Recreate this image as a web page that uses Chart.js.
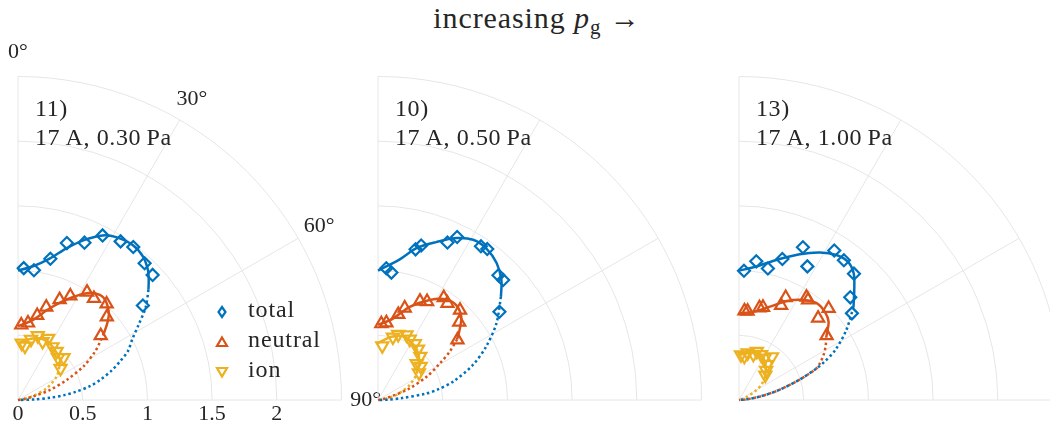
<!DOCTYPE html>
<html lang="en">
  <head>
    <meta charset="UTF-8" />
    <title>Angular distribution - increasing pg</title>
    <script src="https://cdn.jsdelivr.net/npm/chart.js"></script>
    <style>
      body {
        margin: 0;
        width: 1050px;
        height: 429px;
        overflow: hidden;
        position: relative;
        background: #fff;
        font-family: "Liberation Serif", serif;
        color: #262626;
      }
      .title {
        position: absolute;
        top: 0px;
        left: 0;
        width: 1074px;
        text-align: center;
        font-size: 30px;
        line-height: 36px;
        letter-spacing: 0.9px;
      }
      .title sub {
        font-size: 21px;
        line-height: 0;
        vertical-align: -6px;
      }
      .panel {
        position: absolute;
        top: 40px;
        width: 400px;
        height: 389px;
      }
      .label {
        position: absolute;
        top: 94px;
        font-size: 24px;
        line-height: 29px;
        letter-spacing: 0.6px;
        white-space: nowrap;
      }
      .leg-text {
        position: absolute;
        left: 248px;
        font-size: 24px;
        line-height: 30px;
        letter-spacing: 0.9px;
      }
      .leg-mark {
        position: absolute;
        left: 215px;
        width: 14px;
        height: 14px;
      }
    </style>
  </head>
  <body>
    <div class="title">increasing <i>p</i><sub>g</sub> &rarr;</div>
    <div class="panel" style="left: 0px"><canvas id="c1"></canvas></div>
    <div class="panel" style="left: 360px"><canvas id="c2"></canvas></div>
    <div class="panel" style="left: 721px"><canvas id="c3"></canvas></div>

    <script>
      // axes
      const rTicks = [0, 0.5, 1, 1.5, 2];
      const rMax = 2.5;
      const angleTicks = [0, 30, 60, 90];
      const seriesNames = ["total", "neutral", "ion"];
      const panelIds = ["11)", "10)", "13)"];
      const panelConds = ["17\u2009A, 0.30\u2009Pa", "17\u2009A, 0.50\u2009Pa", "17\u2009A, 1.00\u2009Pa"];

      // measured points: [angle (deg), value]
      const p1Total = [[2.5, 1.02], [7.0, 1.01], [12.9, 1.12], [17.3, 1.27], [22.9, 1.32], [27.2, 1.43], [32.9, 1.46], [37.0, 1.48], [42.8, 1.44], [47.1, 1.42], [52.9, 1.21]];
      const p1Neutral = [[2.5, 0.58], [7.4, 0.6], [12.8, 0.67], [16.9, 0.75], [22.5, 0.84], [26.7, 0.9], [32.6, 0.99], [36.8, 0.98], [42.7, 1.01], [46.9, 0.94], [52.1, 0.81]];
      const p1Ion = [[3.7, 0.44], [7.4, 0.42], [12.1, 0.48], [17.1, 0.52], [22.8, 0.49], [26.1, 0.53], [32.9, 0.49], [38.5, 0.48], [43.4, 0.45], [47.1, 0.48], [53.3, 0.41]];

      const p2Total = [[3.6, 1.02], [6.0, 0.99], [14.0, 1.2], [15.6, 1.24], [23.8, 1.33], [25.9, 1.4], [33.8, 1.43], [35.9, 1.44], [44.0, 1.34], [46.2, 1.34], [54.0, 1.16]];
      const p2Neutral = [[2.5, 0.59], [6.2, 0.6], [13.3, 0.68], [16.2, 0.74], [23.0, 0.83], [26.5, 0.85], [32.7, 0.94], [35.7, 0.92], [42.4, 0.94], [46.2, 0.87], [52.9, 0.77]];
      const p2Ion = [[4.5, 0.42], [13.3, 0.5], [17.1, 0.53], [23.6, 0.55], [27.6, 0.53], [33.2, 0.52], [38.2, 0.5], [44.1, 0.47], [46.8, 0.41], [51.7, 0.42], [56.4, 0.38]];

      const p3Total = [[2.2, 1.0], [7.1, 1.08], [12.4, 1.04], [17.1, 1.14], [22.7, 1.28], [27.1, 1.16], [32.5, 1.37], [36.9, 1.35], [42.3, 1.32], [47.3, 1.17], [52.5, 1.1]];
      const p3Neutral = [[3.5, 0.69], [5.5, 0.69], [12.5, 0.73], [14.5, 0.74], [24.0, 0.8], [24.5, 0.87], [33.3, 0.95], [34.6, 0.94], [44.4, 0.99], [44.0, 0.88], [53.7, 0.84]];
      const p3Ion = [[2.5, 0.35], [6.9, 0.34], [10.4, 0.37], [17.4, 0.37], [20.1, 0.4], [26.0, 0.39], [31.3, 0.38], [37.3, 0.42], [38.4, 0.35], [42.6, 0.31], [46.6, 0.28]];

      // fitted curves: solid part, then dotted extrapolation
      const p1TotalFit = [[0, 1.0], [6.4, 1.04], [12.6, 1.12], [17.7, 1.23], [22.6, 1.34], [27.2, 1.43], [31.1, 1.47], [36.6, 1.49], [41.1, 1.47], [45, 1.42], [47.5, 1.37], [49.8, 1.32]];
      const p1TotalTail = [[49.8, 1.32], [54, 1.22], [58, 1.1], [62, 1.0], [66, 0.93], [69, 0.85], [72.5, 0.76], [76, 0.66], [79, 0.57], [82, 0.45], [84, 0.36], [86, 0.25], [88, 0.13], [90, 0]];
      const p1NeutralFit = [[0, 0.57], [10.6, 0.63], [19.1, 0.75], [25.7, 0.86], [32.7, 0.98], [37.9, 1.03], [41.9, 1.02], [46.4, 0.97], [49.3, 0.91], [52.2, 0.84]];
      const p1NeutralTail = [[52.2, 0.84], [55, 0.77], [58, 0.7], [62.8, 0.57], [67.5, 0.41], [72.5, 0.26], [77, 0.12], [81, 0.05], [90, 0]];
      const p1IonFit = [[0, 0.44], [13.7, 0.49], [25.3, 0.51], [36.3, 0.48], [46.2, 0.45], [51.3, 0.41]];
      const p1IonTail = [[51.3, 0.41], [58.7, 0.35], [67.7, 0.24], [75, 0.12], [81, 0.04], [90, 0]];

      const p2TotalFit = [[0, 1.0], [8.8, 1.1], [14.2, 1.21], [20.2, 1.3], [25.8, 1.39], [30.7, 1.44], [35.5, 1.44], [40.9, 1.4], [45.8, 1.33], [50, 1.24]];
      const p2TotalTail = [[50, 1.24], [57.1, 1.09], [63.8, 0.93], [69.8, 0.78], [76.2, 0.6], [80, 0.47], [82.5, 0.37], [85.5, 0.18], [88, 0.08], [90, 0]];
      const p2NeutralFit = [[0, 0.58], [10.4, 0.64], [18.8, 0.76], [27.3, 0.87], [34.2, 0.94], [39.5, 0.95], [45, 0.91], [49.4, 0.83], [52.5, 0.77]];
      const p2NeutralTail = [[52.5, 0.77], [56, 0.67], [59.3, 0.56], [64.3, 0.42], [69.8, 0.26], [74, 0.12], [80, 0.04], [90, 0]];
      const p2IonFit = [[0, 0.44], [12, 0.5], [22, 0.53], [32, 0.51], [42, 0.47], [50, 0.41]];
      const p2IonTail = [[50, 0.41], [57, 0.35], [64.7, 0.27], [70, 0.2], [74.6, 0.15], [80, 0.07], [85, 0.02], [90, 0]];

      const p3TotalFit = [[0, 1.0], [7.4, 1.04], [14.9, 1.12], [22.6, 1.22], [28.7, 1.3], [33.9, 1.35], [38.2, 1.36], [42.2, 1.32], [46.4, 1.23], [50.9, 1.14]];
      const p3TotalTail = [[50.9, 1.14], [56.9, 0.99], [62.5, 0.84], [66, 0.72], [68, 0.64], [71.5, 0.49], [76.2, 0.31], [80.8, 0.16], [85, 0.06], [90, 0]];
      const p3NeutralFit = [[0, 0.67], [9.3, 0.69], [18.4, 0.76], [25.8, 0.85], [32.8, 0.92], [38.9, 0.96], [44.4, 0.95], [48.8, 0.92], [52.4, 0.86], [54.3, 0.83]];
      const p3NeutralTail = [[54.3, 0.83], [58, 0.79], [62, 0.74], [66, 0.68], [68, 0.64], [71.5, 0.49], [76.2, 0.31], [80.8, 0.16], [85, 0.06], [90, 0]];
      const p3IonFit = [[0, 0.35], [16.3, 0.38], [28.6, 0.38], [39, 0.33], [48.6, 0.27]];
      const p3IonTail = [[48.6, 0.27], [55.7, 0.21], [61.5, 0.14], [68.7, 0.06], [78, 0.01], [90, 0]];

      const colors = ["#0072BD", "#D95319", "#EDB120"];
      const textColor = "#262626";
      const gridColor = "#e6e6e6";
      const DEG = Math.PI / 180;

      // angle is measured from the vertical axis
      const toXY = (pts) =>
        pts.map(([a, r]) => ({ x: r * Math.sin(a * DEG), y: r * Math.cos(a * DEG) }));

      const panels = [
        { id: "c1", markers: [p1Total, p1Neutral, p1Ion], fits: [p1TotalFit, p1NeutralFit, p1IonFit], tails: [p1TotalTail, p1NeutralTail, p1IonTail] },
        { id: "c2", markers: [p2Total, p2Neutral, p2Ion], fits: [p2TotalFit, p2NeutralFit, p2IonFit], tails: [p2TotalTail, p2NeutralTail, p2IonTail] },
        { id: "c3", markers: [p3Total, p3Neutral, p3Ion], fits: [p3TotalFit, p3NeutralFit, p3IonFit], tails: [p3TotalTail, p3NeutralTail, p3IonTail] },
      ];

      const markerStyles = [
        { pointStyle: "rectRot", pointRadius: 6, rotation: 0 },
        { pointStyle: "triangle", pointRadius: 7, rotation: 0 },
        { pointStyle: "triangle", pointRadius: 7, rotation: 180 },
      ];

      // quarter polar grid drawn from the x/y scales
      const polarGrid = {
        id: "polarGrid",
        beforeDatasetsDraw(chart, args, opts) {
          const { ctx } = chart;
          const { x, y } = chart.scales;
          const cx = x.getPixelForValue(0);
          const cy = y.getPixelForValue(0);
          ctx.save();
          ctx.strokeStyle = gridColor;
          ctx.lineWidth = 1;
          rTicks
            .filter((r) => r > 0)
            .concat([rMax])
            .forEach((r) => {
              ctx.beginPath();
              ctx.arc(cx, cy, x.getPixelForValue(r) - cx, -Math.PI / 2, 0);
              ctx.stroke();
            });
          angleTicks.forEach((a) => {
            ctx.beginPath();
            ctx.moveTo(cx, cy);
            ctx.lineTo(
              x.getPixelForValue(rMax * Math.sin(a * DEG)),
              y.getPixelForValue(rMax * Math.cos(a * DEG))
            );
            ctx.stroke();
          });
          if (opts.labels) {
            ctx.fillStyle = textColor;
            ctx.font = '22px "Liberation Serif", serif';
            ctx.textAlign = "center";
            ctx.textBaseline = "middle";
            const rl = rMax * 1.075;
            angleTicks.forEach((a) => {
              ctx.fillText(
                a + "\u00b0",
                x.getPixelForValue(rl * Math.sin(a * DEG)),
                y.getPixelForValue(rl * Math.cos(a * DEG))
              );
            });
          }
          ctx.restore();
        },
      };

      panels.forEach((p, i) => {
        const datasets = [];
        p.fits.forEach((f, k) => {
          datasets.push({
            data: toXY(f),
            showLine: true,
            borderColor: colors[k],
            borderWidth: 2.5,
            pointRadius: 0,
            tension: 0.3,
            clip: false,
          });
        });
        p.tails.forEach((t, k) => {
          datasets.push({
            data: toXY(t),
            showLine: true,
            borderColor: colors[k],
            borderWidth: 2.5,
            borderDash: [2.5, 2.8],
            pointRadius: 0,
            tension: 0.3,
            clip: false,
          });
        });
        p.markers.forEach((m, k) => {
          datasets.push({
            label: seriesNames[k],
            data: toXY(m),
            showLine: false,
            pointStyle: markerStyles[k].pointStyle,
            pointRadius: markerStyles[k].pointRadius,
            rotation: markerStyles[k].rotation,
            pointBorderColor: colors[k],
            pointBackgroundColor: "rgba(0,0,0,0)",
            pointBorderWidth: 2.2,
            clip: false,
          });
        });

        new Chart(document.getElementById(p.id), {
          type: "scatter",
          data: { datasets },
          options: {
            responsive: true,
            maintainAspectRatio: false,
            animation: false,
            events: [],
            layout: { padding: { left: 18, top: 36.5, right: 58.5, bottom: 0 } },
            scales: {
              x: {
                type: "linear",
                min: 0,
                max: rMax,
                afterBuildTicks: (s) => {
                  s.ticks = rTicks.map((v) => ({ value: v }));
                },
                afterFit: (s) => {
                  s.height = 29;
                },
                grid: { display: false, drawTicks: false },
                border: { display: false },
                ticks: {
                  display: i === 0,
                  padding: 1,
                  color: textColor,
                  font: { family: '"Liberation Serif", serif', size: 22 },
                  maxRotation: 0,
                  callback: (v) => String(v),
                },
              },
              y: { display: false, min: 0, max: rMax },
            },
            plugins: {
              legend: { display: false },
              tooltip: { enabled: false },
              polarGrid: { labels: i === 0 },
            },
          },
          plugins: [polarGrid],
        });

        const lab = document.createElement("div");
        lab.className = "label";
        lab.style.left = [35, 395, 756][i] + "px";
        lab.innerHTML = panelIds[i] + "<br>" + panelConds[i];
        document.body.appendChild(lab);
      });

      // legend (panel 1)
      const legendShapes = [
        '<polygon points="7,2 10.5,7 7,12 3.5,7" />',
        '<polygon points="7,2.5 12,11 2,11" />',
        '<polygon points="2,3 12,3 7,11.5" />',
      ];
      const legendBase = [316.7, 346.7, 377];
      seriesNames.forEach((name, k) => {
        const mk = document.createElement("div");
        mk.className = "leg-mark";
        mk.style.top = legendBase[k] - 12 + "px";
        mk.innerHTML =
          '<svg width="14" height="14" fill="none" stroke="' + colors[k] +
          '" stroke-width="2.2">' + legendShapes[k] + "</svg>";
        document.body.appendChild(mk);
        const tx = document.createElement("div");
        tx.className = "leg-text";
        tx.style.top = legendBase[k] - 23 + "px";
        tx.textContent = name;
        document.body.appendChild(tx);
      });
    </script>
  </body>
</html>
